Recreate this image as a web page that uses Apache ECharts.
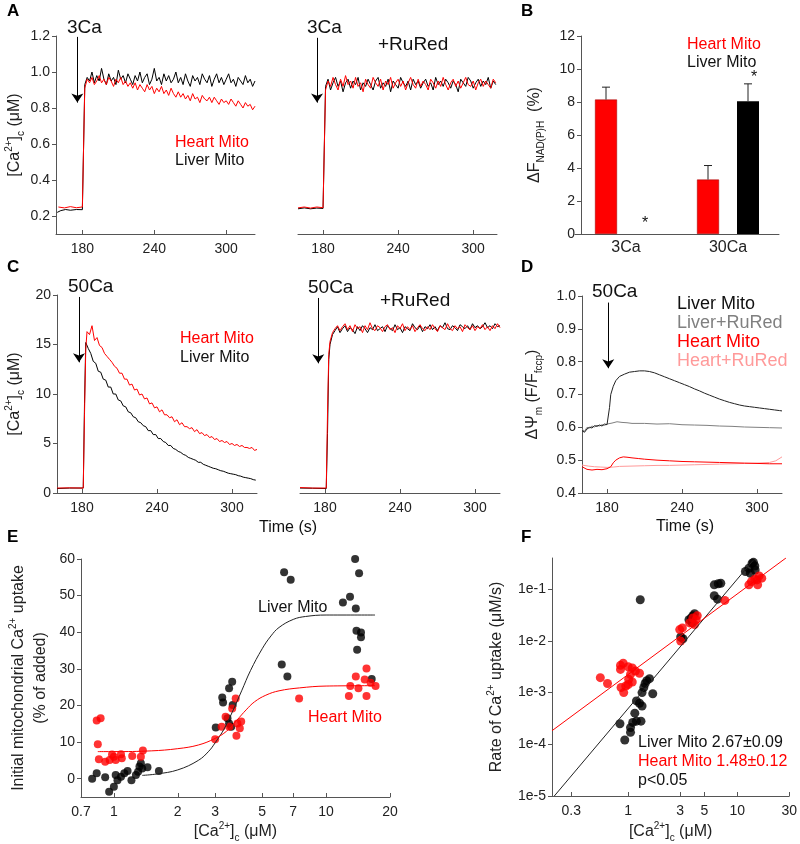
<!DOCTYPE html>
<html>
<head>
<meta charset="utf-8">
<title>Mito Ca2+ uptake</title>
<script src="https://cdn.jsdelivr.net/npm/echarts@6/dist/echarts.min.js"></script>
<style>
html,body{margin:0;padding:0;background:#fff;}
#main{width:800px;height:844px;}
</style>
</head>
<body>
<div id="main"></div>
<script>
// ---- values ----
var timeTicks = [180, 240, 300];

// A: 3 uM Ca2+ pulse; after the addition the traces are sampled every 2 s
var aStep = 2;
var aHeartBase = [[160,0.25],[165,0.245],[170,0.252],[175,0.246],[180,0.25],[181,0.26]];
var aLiverBase = [[159,0.22],[162,0.23],[166,0.236],[170,0.232],[175,0.236],[180,0.235],[181,0.24]];
var aHeart = [0.91,0.96,0.94,0.97,0.93,0.95,0.98,0.94,0.96,0.93,0.97,0.95,0.92,0.96,0.94,0.97,0.93,0.95,0.92,0.94,
  0.91,0.94,0.90,0.93,0.91,0.89,0.93,0.90,0.92,0.88,0.91,0.89,0.92,0.88,0.90,0.87,0.91,0.88,0.86,0.89,
  0.86,0.88,0.85,0.87,0.84,0.88,0.85,0.86,0.83,0.87,0.85,0.84,0.86,0.83,0.86,0.84,0.82,0.85,0.83,0.84,
  0.82,0.85,0.83,0.81,0.84,0.82,0.80,0.83,0.81,0.82,0.79,0.81];
var aLiver = [0.93,0.97,0.95,1.00,0.94,0.98,0.95,1.02,0.96,0.93,0.99,0.95,0.97,0.93,1.01,0.96,0.98,0.94,0.99,0.96,
  0.93,0.98,0.95,1.00,0.94,0.97,0.99,0.93,0.96,1.02,0.95,0.97,0.93,0.99,0.95,0.98,0.94,0.96,1.00,0.94,
  0.97,0.93,0.99,0.95,0.92,0.98,0.95,0.97,0.93,0.99,0.96,0.94,0.98,0.92,0.96,0.99,0.94,0.97,0.93,0.96,
  0.99,0.94,0.96,0.92,0.97,0.95,0.93,0.98,0.94,0.96,0.92,0.95];
var aRuHeartBase = [[160,0.245],[165,0.25],[170,0.244],[175,0.25],[180,0.246],[181,0.25]];
var aRuLiverBase = [[160,0.24],[165,0.245],[170,0.24],[175,0.244],[180,0.242],[181,0.245]];
var aRuHeart = [0.90,0.95,0.92,0.97,0.93,0.90,0.96,0.92,0.98,0.93,0.95,0.91,0.97,0.92,0.94,0.89,0.96,0.93,0.91,0.97,
  0.94,0.92,0.96,0.90,0.95,0.93,0.97,0.91,0.94,0.96,0.92,0.95,0.90,0.94,0.97,0.93,0.91,0.96,0.92,0.95,
  0.93,0.90,0.96,0.94,0.91,0.95,0.92,0.97,0.93,0.90,0.94,0.96,0.92,0.95,0.91,0.94,0.97,0.93,0.92,0.95,
  0.90,0.94,0.96,0.92,0.95,0.93,0.91,0.96,0.94];
var aRuLiver = [0.92,0.96,0.90,0.94,0.97,0.92,0.95,0.89,0.94,0.96,0.91,0.95,0.93,0.97,0.90,0.94,0.92,0.96,0.93,0.90,
  0.95,0.97,0.91,0.94,0.92,0.96,0.89,0.95,0.93,0.91,0.97,0.94,0.92,0.95,0.90,0.96,0.93,0.95,0.91,0.94,
  0.96,0.92,0.94,0.90,0.97,0.93,0.95,0.92,0.96,0.94,0.91,0.95,0.93,0.89,0.96,0.94,0.92,0.97,0.95,0.91,
  0.94,0.96,0.92,0.95,0.93,0.97,0.91,0.95,0.93];
var aYTicks = [0.2, 0.4, 0.6, 0.8, 1.0, 1.2];

// B: NAD(P)H fluorescence change
var bGroups = ['3Ca', '30Ca'];
var bHeart = [8.15, 3.3];
var bHeartErr = [0.75, 0.85];
var bLiver = [0, 8.05];
var bLiverErr = [0, 1.05];

// C: 50 uM Ca2+ pulse
var cHeartRise = [[160,0.5],[170,0.52],[181,0.5],[182,8],[183,14.5],[184,16.3]];
var cHeart = [16.0,16.9,15.4,15.7,14.9,14.7,14.1,13.8,13.5,13.2,12.8,12.6,12.1,12.1,11.5,11.5,10.9,11.0,10.4,10.5,
  9.9,10.0,9.5,9.6,9.0,9.1,8.6,8.7,8.2,8.4,7.9,7.9,7.6,7.7,7.2,7.4,6.9,7.1,6.7,6.7,
  6.5,6.6,6.2,6.4,6.0,6.1,5.8,5.9,5.6,5.7,5.4,5.5,5.2,5.3,5.1,5.2,4.9,5.0,4.8,4.9,
  4.7,4.8,4.6,4.6,4.5,4.6,4.3,4.4];
var cLiverRise = [[160,0.45],[170,0.5],[181,0.5],[182,9],[183,15.2]];
var cLiver = [14.6,14.1,13.3,13.1,12.3,12.2,11.5,11.4,10.7,10.7,10.0,10.0,9.4,9.3,8.8,8.7,8.2,8.1,7.7,7.6,
  7.2,7.1,6.8,6.7,6.3,6.3,5.9,5.9,5.5,5.5,5.2,5.1,4.8,4.8,4.5,4.4,4.2,4.1,3.9,3.8,
  3.6,3.5,3.4,3.3,3.1,3.1,2.9,2.8,2.7,2.6,2.5,2.45,2.35,2.25,2.2,2.1,2.0,1.95,1.9,1.85,
  1.75,1.7,1.6,1.55,1.5,1.45,1.35,1.3];
var cRuHeartRise = [[160,0.55],[170,0.5],[181,0.5],[182,8],[183,14.0],[184,15.3]];
var cRuHeart = [16.2,16.6,16.9,16.4,16.8,17.1,16.5,16.9,16.3,17.0,16.6,16.8,16.2,16.9,16.5,17.2,16.6,16.4,16.9,16.7,
  16.3,16.8,17.0,16.5,16.7,16.2,16.9,16.6,17.1,16.4,16.8,16.5,16.9,16.3,16.7,17.0,16.6,16.4,16.8,16.5,
  17.0,16.6,16.3,16.9,16.7,16.5,17.1,16.6,16.4,16.9,16.6,16.8,16.3,17.0,16.7,16.5,16.9,16.4,16.8,16.6,
  17.0,16.5,16.8,16.4,16.9,16.6,17.1,16.7];
var cRuLiverRise = [[160,0.5],[170,0.48],[181,0.45],[182,6],[183,13.5],[184,15.0]];
var cRuLiver = [16.0,16.4,16.8,16.2,16.6,16.9,16.3,16.7,16.5,16.1,16.8,16.4,16.9,16.6,16.2,16.7,16.5,17.0,16.4,16.6,
  16.8,16.3,16.9,16.6,16.4,17.0,16.5,16.7,16.2,16.8,16.6,16.4,17.1,16.7,16.5,16.9,16.3,16.8,16.6,17.0,
  16.5,16.8,16.4,16.9,16.7,17.2,16.6,16.5,16.9,16.7,16.4,17.0,16.8,16.6,16.9,16.5,17.1,16.7,16.9,16.6,
  16.8,17.2,16.7,16.9,16.6,17.1,16.8,16.9];

// D: membrane potential
var dLiver = [[160,0.590],[162,0.585],[164,0.595],[166,0.600],[168,0.598],[170,0.605],[172,0.603],[174,0.607],[176,0.604],[178,0.610],[180,0.608],[181,0.612],[182,0.660],[183,0.700],[185,0.725],[187,0.742],[190,0.755],[194,0.762],[198,0.768],[202,0.770],[206,0.772],[210,0.772],[214,0.770],[218,0.766],[222,0.760],[226,0.754],[230,0.748],[234,0.742],[238,0.736],[242,0.730],[246,0.724],[250,0.717],[254,0.711],[258,0.704],[262,0.698],[266,0.692],[270,0.686],[274,0.681],[278,0.676],[282,0.672],[286,0.668],[290,0.665],[294,0.663],[298,0.661],[302,0.659],[306,0.657],[310,0.655],[314,0.653],[318,0.651],[320,0.650]];
var dLiverRu = [[160,0.595],[162,0.588],[164,0.600],[166,0.598],[168,0.604],[170,0.601],[172,0.606],[174,0.604],[176,0.608],[178,0.606],[180,0.610],[184,0.613],[188,0.617],[192,0.615],[196,0.614],[200,0.612],[210,0.612],[220,0.610],[230,0.611],[240,0.608],[250,0.607],[260,0.606],[270,0.604],[280,0.603],[290,0.601],[300,0.600],[310,0.599],[320,0.598]];
var dHeart = [[160,0.480],[164,0.472],[168,0.470],[172,0.472],[176,0.471],[180,0.474],[181,0.470],[183,0.480],[185,0.492],[187,0.500],[190,0.507],[193,0.510],[196,0.509],[200,0.507],[205,0.505],[210,0.503],[220,0.500],[230,0.498],[240,0.496],[250,0.495],[260,0.494],[270,0.493],[280,0.492],[290,0.491],[300,0.490],[310,0.489],[320,0.489]];
var dHeartRu = [[160,0.485],[165,0.482],[170,0.480],[175,0.479],[180,0.478],[185,0.479],[190,0.481],[200,0.482],[210,0.483],[220,0.484],[230,0.484],[240,0.485],[250,0.486],[260,0.487],[270,0.488],[280,0.489],[290,0.490],[300,0.491],[310,0.493],[315,0.498],[320,0.510]];
var dYTicks = [0.4, 0.5, 0.6, 0.7, 0.8, 0.9, 1.0];

// E: initial uptake vs [Ca2+]c
var eLiverPts = [[0.79,0],[0.83,1.5],[0.91,0.4],[0.95,-3.6],[1.0,-2.2],[1.02,1.0],[1.04,-0.4],[1.08,0.5],[1.12,1.5],[1.16,2.1],[1.21,-0.4],[1.27,1.0],[1.30,1.9],[1.32,3.3],[1.34,4.2],[1.36,2.8],[1.44,3.1],[1.63,2.1],
  [3.02,14.0],[3.24,22.2],[3.27,20.8],[3.49,24.7],[3.61,26.5],[3.63,20.1],[3.43,16.5],[3.49,15.1],[3.57,14.2],
  [6.18,31.2],[6.57,27.9],[6.34,56.4],[6.81,54.3],[13.7,60],[14.3,56.1],[12.96,49.7],[12.0,48.1],[13.8,46.5],[13.9,40.4],[14.6,39.9],[14.6,38.6],[14.0,35.2],[16.4,27.2]];
var eHeartPts = [[0.83,15.9],[0.866,16.5],[0.84,9.4],[0.85,5.3],[0.91,4.6],[0.955,5.1],[0.98,6.6],[1.0,6.0],[1.02,5.1],[1.08,6.7],[1.09,5.6],[1.22,6.2],[1.34,6.0],[1.37,7.7],
  [3.0,10.8],[3.22,14.2],[3.36,16.9],[3.5,14.2],[3.61,19.2],[3.75,21.9],[3.78,11.7],[3.82,15.1],[3.92,13.8],[3.98,15.6],
  [7.46,21.9],[12.8,22.6],[13.0,25.3],[13.8,27.9],[14.2,24.7],[15.5,30.1],[15.2,27.1],[15.5,22.6],[16.2,26.2],[17.1,25.3]];
var eLiverFit = [[1.36,0.9],[1.6,1.3],[2.0,2.4],[2.5,5.0],[2.8,7.5],[3.0,9.8],[3.3,13.5],[3.6,18],[4.0,24],[4.4,29.5],[5.0,35.5],[5.5,39],[6.0,41.3],[7.0,43.5],[8.0,44.3],[10,44.7],[17,44.7]];
var eHeartFit = [[0.84,7.4],[1.0,7.4],[1.5,7.6],[2.0,8.2],[2.5,9.2],[3.0,11],[3.4,13],[3.8,16],[4.2,18.8],[4.6,21],[5.2,22.8],[6.0,24],[7.5,24.8],[10,25.3],[17,25.4]];
var eXTicks = [0.7, 1, 2, 3, 5, 7, 10, 20];
var eYTicks = [0, 10, 20, 30, 40, 50, 60];

// F: uptake rate, log-log
var fLiverPts = [[1.29,0.0624],[0.84,2.5e-4],[0.93,1.21e-4],[1.05,1.7e-4],[1.05,2.1e-4],[1.10,2.65e-4],[1.15,4.0e-4],[1.19,2.8e-4],[1.31,2.8e-4],[1.19,6.9e-4],[1.27,6.2e-4],[1.34,5.5e-4],[1.34,1.0e-3],[1.39,1.25e-3],[1.43,1.5e-3],[1.48,1.7e-3],[1.57,1.86e-3],[1.68,9.5e-4],
  [3.03,0.0119],[3.18,0.011],[3.61,0.0257],[3.79,0.0277],[3.92,0.0307],[4.06,0.0335],[3.87,0.0222],
  [6.16,0.121],[6.7,0.127],[7.07,0.130],[6.16,0.0744],[6.6,0.064],[11.9,0.219],[12.8,0.253],[13.7,0.316],[14.5,0.28],[13.2,0.203],[14.6,0.235],[14.1,0.33]];
var fHeartPts = [[0.555,1.94e-3],[0.646,1.5e-3],[0.85,3.36e-3],[0.90,3.68e-3],[0.85,2.8e-3],[1.0,3.16e-3],[1.09,3.0e-3],[1.165,2.6e-3],[1.27,2.36e-3],[0.86,1.25e-3],[0.91,1.0e-3],[0.95,1.34e-3],[1.01,1.8e-3],[1.05,2.25e-3],[1.09,1.6e-3],[1.0,1.43e-3],
  [2.97,0.0165],[3.14,0.0178],[3.03,9.9e-3],[3.66,0.0222],[3.92,0.0277],[4.06,0.0206],[4.2,0.0257],[4.3,0.0307],
  [7.7,0.0605],[12.8,0.121],[13.5,0.14],[15.2,0.151],[15.9,0.18],[16.8,0.163],[15.4,0.121],[14.5,0.155]];
var fLiverFit = [[0.21,1e-5],[14,0.36]];
var fHeartFit = [[0.2,1.83e-4],[28,0.4]];
var fXTicks = [0.3, 1, 3, 5, 10, 30];
var fYTicks = [1e-5, 1e-4, 1e-3, 1e-2, 1e-1];

// ---- helpers ----
var FONT = 'Liberation Sans, Arial, sans-serif';
var AX = '#555';
var RED = '#ff0000';
var BAR_W = 22, BAR_GAP = 18;   // px; bars in a group sit BAR_W + BAR_GAP apart

// baseline points, then regularly sampled values after the Ca2+ addition
function trace(base, t0, dt, vals) {
    return base.concat(vals.map(function (v, i) { return [t0 + i * dt, v]; }));
}

var richStyle = {
    sup: { fontSize: 10, fontFamily: FONT, verticalAlign: 'top', color: '#222' },
    sub: { fontSize: 10, fontFamily: FONT, verticalAlign: 'bottom', color: '#222' }
};
function nameStyle() {
    return { fontSize: 16, fontFamily: FONT, color: '#222', lineHeight: 22, rich: richStyle };
}

function timeAxis(gi, min, max) {
    return {
        type: 'value', gridIndex: gi, min: min, max: max,
        axisLine: { onZero: false, lineStyle: { color: AX } },
        axisTick: { inside: true, length: 4, lineStyle: { color: AX }, customValues: timeTicks },
        axisLabel: { customValues: timeTicks, color: '#222', fontSize: 14, fontFamily: FONT, margin: 8 },
        splitLine: { show: false }
    };
}
function leftAxis(gi, min, max, ticks, fmt, name, gap) {
    return {
        type: 'value', gridIndex: gi, min: min, max: max,
        axisLine: { show: true, lineStyle: { color: AX } },
        axisTick: { show: true, length: 4, lineStyle: { color: AX }, customValues: ticks },
        axisLabel: { customValues: ticks, formatter: fmt, color: '#222', fontSize: 14, fontFamily: FONT, margin: 6 },
        splitLine: { show: false },
        name: name, nameLocation: 'middle', nameRotate: 90, nameGap: gap, nameTextStyle: nameStyle()
    };
}
function hiddenAxis(gi, min, max) {
    return { type: 'value', gridIndex: gi, min: min, max: max, show: false, splitLine: { show: false } };
}
function lineSeries(xi, data, color, extra) {
    var s = {
        type: 'line', xAxisIndex: xi, yAxisIndex: xi, data: data,
        showSymbol: false, symbol: 'none', lineStyle: { color: color, width: 1 }, z: 3
    };
    for (var k in extra) s[k] = extra[k];
    return s;
}
function arrow(x, y0, y1) {
    return {
        silent: true, symbol: ['none', 'arrow'], symbolSize: 9,
        lineStyle: { color: '#000', width: 1, type: 'solid' }, label: { show: false },
        data: [[{ coord: [x, y0] }, { coord: [x, y1] }]]
    };
}
function errRender(side) {
    return function (params, api) {
        var e = api.value(2);
        if (!(e > 0)) return;
        var base = api.coord([api.value(0), api.value(1)]);
        var top = api.coord([api.value(0), api.value(1) + e]);
        var x = base[0] + side * (BAR_W + BAR_GAP) / 2;
        return {
            type: 'group', children: [
                { type: 'line', shape: { x1: x, y1: base[1], x2: x, y2: top[1] }, style: { stroke: '#222', lineWidth: 1 } },
                { type: 'line', shape: { x1: x - 4, y1: top[1], x2: x + 4, y2: top[1] }, style: { stroke: '#222', lineWidth: 1 } }
            ]
        };
    };
}
function txt(s, x, y, color, size, align, weight) {
    return {
        type: 'text', x: x, y: y, silent: true,
        style: {
            text: s, fill: color, align: align || 'left', verticalAlign: 'middle',
            font: (weight || 'normal') + ' ' + size + 'px ' + FONT
        }
    };
}
var fmt1 = function (v) { return v.toFixed(1); };
var fmtG = function (v) { return String(+v.toPrecision(3)); };
var fmtExp = function (v) { return '1e' + Math.round(Math.log(v) / Math.LN10); };
var caName = '[Ca{sup|2+}]{sub|c} (μM)';

var bY = leftAxis(2, 0, 12, [0, 2, 4, 6, 8, 10, 12], null, 'ΔF{sub|NAD(P)H}  (%)', 35);
bY.offset = -6;

var chart = echarts.init(document.getElementById('main'));
chart.setOption({
    animation: false,
    backgroundColor: '#fff',
    grid: [
        { left: 56, top: 36, width: 199, height: 198 },
        { left: 298, top: 36, width: 199, height: 198 },
        { left: 575, top: 36, width: 204, height: 198 },
        { left: 57, top: 295, width: 200, height: 198 },
        { left: 300, top: 295, width: 200, height: 198 },
        { left: 582, top: 296, width: 200, height: 197 },
        { left: 81, top: 559, width: 309, height: 238 },
        { left: 552, top: 558, width: 240, height: 239 }
    ],
    xAxis: [
        timeAxis(0, 158, 324),
        timeAxis(1, 160, 319),
        {
            type: 'category', gridIndex: 2, data: bGroups,
            axisLine: { onZero: false, lineStyle: { color: AX } }, axisTick: { show: false },
            axisLabel: { color: '#222', fontSize: 16, fontFamily: FONT, margin: 6 }
        },
        timeAxis(3, 160, 320),
        timeAxis(4, 160, 320),
        timeAxis(5, 160, 320),
        {
            type: 'log', logBase: 10, gridIndex: 6, min: 0.7, max: 20,
            axisLine: { onZero: false, lineStyle: { color: AX } },
            axisTick: { inside: true, length: 4, lineStyle: { color: AX }, customValues: eXTicks },
            axisLabel: { customValues: eXTicks, formatter: fmtG, color: '#222', fontSize: 14, fontFamily: FONT, margin: 8 },
            splitLine: { show: false }, minorTick: { show: false },
            name: caName, nameLocation: 'middle', nameGap: 24, nameTextStyle: nameStyle()
        },
        {
            type: 'log', logBase: 10, gridIndex: 7, min: 0.2, max: 30,
            axisLine: { onZero: false, lineStyle: { color: AX } },
            axisTick: { inside: true, length: 4, lineStyle: { color: AX }, customValues: fXTicks },
            axisLabel: { customValues: fXTicks, formatter: fmtG, color: '#222', fontSize: 14, fontFamily: FONT, margin: 8 },
            splitLine: { show: false },
            name: caName, nameLocation: 'middle', nameGap: 25, nameTextStyle: nameStyle()
        }
    ],
    yAxis: [
        leftAxis(0, 0.1, 1.2, aYTicks, fmt1, caName, 30),
        hiddenAxis(1, 0.1, 1.2),
        bY,
        leftAxis(3, 0, 20, [0, 5, 10, 15, 20], null, caName, 31),
        hiddenAxis(4, 0, 20),
        leftAxis(5, 0.4, 1.0, dYTicks, fmt1, 'ΔΨ{sub|m} (F/F{sub|fccp})', 38),
        leftAxis(6, -5, 60, eYTicks, null, 'Initial mitochondrial Ca{sup|2+} uptake\n(% of added)', 29),
        {
            type: 'log', logBase: 10, gridIndex: 7, min: 1e-5, max: 0.4,
            axisLine: { show: true, lineStyle: { color: AX } },
            axisTick: { show: true, length: 4, lineStyle: { color: AX }, customValues: fYTicks },
            axisLabel: { customValues: fYTicks, formatter: fmtExp, color: '#222', fontSize: 14, fontFamily: FONT, margin: 6 },
            splitLine: { show: false },
            name: 'Rate of Ca{sup|2+} uptake (μM/s)', nameLocation: 'middle', nameRotate: 90, nameGap: 44, nameTextStyle: nameStyle()
        }
    ],
    series: [
        // A
        lineSeries(0, trace(aLiverBase, 182, aStep, aLiver), '#000', { markLine: arrow(175.8, 1.195, 0.83) }),
        lineSeries(0, trace(aHeartBase, 182, aStep, aHeart), RED),
        lineSeries(1, trace(aRuLiverBase, 182, aStep, aRuLiver), '#000', { markLine: arrow(175.2, 1.19, 0.83) }),
        lineSeries(1, trace(aRuHeartBase, 182, aStep, aRuHeart), RED),
        // B
        { type: 'bar', xAxisIndex: 2, yAxisIndex: 2, data: bHeart, barWidth: BAR_W, barGap: (BAR_GAP / BAR_W * 100) + '%',
          itemStyle: { color: RED, borderColor: '#900', borderWidth: 0.5 } },
        { type: 'bar', xAxisIndex: 2, yAxisIndex: 2, data: bLiver, barWidth: BAR_W,
          itemStyle: { color: '#000' } },
        { type: 'custom', xAxisIndex: 2, yAxisIndex: 2, renderItem: errRender(-1), z: 5,
          data: bHeart.map(function (v, i) { return [i, v, bHeartErr[i]]; }) },
        { type: 'custom', xAxisIndex: 2, yAxisIndex: 2, renderItem: errRender(1), z: 5,
          data: bLiver.map(function (v, i) { return [i, v, bLiverErr[i]]; }) },
        // C
        lineSeries(3, trace(cLiverRise, 185, 2, cLiver), '#000', { markLine: arrow(177.6, 19.8, 13.2) }),
        lineSeries(3, trace(cHeartRise, 186, 2, cHeart), RED),
        lineSeries(4, trace(cRuLiverRise, 186, 2, cRuLiver), '#000', { markLine: arrow(174.6, 19.7, 13.1) }),
        lineSeries(4, trace(cRuHeartRise, 186, 2, cRuHeart), RED),
        // D
        lineSeries(5, dLiverRu, '#808080', { markLine: arrow(181, 0.98, 0.78) }),
        lineSeries(5, dLiver, '#222'),
        lineSeries(5, dHeartRu, '#ff9a9a'),
        lineSeries(5, dHeart, RED),
        // E
        lineSeries(6, eLiverFit, '#222', { smooth: 0.4 }),
        lineSeries(6, eHeartFit, RED, { smooth: 0.4 }),
        { type: 'scatter', xAxisIndex: 6, yAxisIndex: 6, data: eLiverPts, symbolSize: 8, itemStyle: { color: '#000' } },
        { type: 'scatter', xAxisIndex: 6, yAxisIndex: 6, data: eHeartPts, symbolSize: 8, itemStyle: { color: RED } },
        // F
        { type: 'scatter', xAxisIndex: 7, yAxisIndex: 7, data: fLiverPts, symbolSize: 9, itemStyle: { color: '#000' } },
        { type: 'scatter', xAxisIndex: 7, yAxisIndex: 7, data: fHeartPts, symbolSize: 9, itemStyle: { color: RED } },
        lineSeries(7, fLiverFit, '#222', { z: 4 }),
        lineSeries(7, fHeartFit, RED, { z: 4 })
    ],
    graphic: [
        txt('A', 7, 11, '#000', 17, 'left', 'bold'),
        txt('B', 521, 11, '#000', 17, 'left', 'bold'),
        txt('C', 7, 267, '#000', 17, 'left', 'bold'),
        txt('D', 521, 267, '#000', 17, 'left', 'bold'),
        txt('E', 7, 537, '#000', 17, 'left', 'bold'),
        txt('F', 521, 537, '#000', 17, 'left', 'bold'),
        txt('3Ca', 67, 28, '#111', 19),
        txt('3Ca', 307, 28, '#111', 19),
        txt('+RuRed', 378, 45, '#111', 19),
        txt('Heart Mito', 175, 143, RED, 16),
        txt('Liver Mito', 175, 161, '#111', 16),
        txt('Heart Mito', 687, 45, RED, 16),
        txt('Liver Mito', 687, 63, '#111', 16),
        txt('*', 645, 224, '#111', 16, 'center'),
        txt('*', 754, 78, '#111', 16, 'center'),
        txt('50Ca', 68, 287, '#111', 19),
        txt('Heart Mito', 180, 339, RED, 16),
        txt('Liver Mito', 180, 358, '#111', 16),
        txt('Time (s)', 288, 528, '#111', 16, 'center'),
        txt('50Ca', 308, 288, '#111', 19),
        txt('+RuRed', 380, 301, '#111', 19),
        txt('50Ca', 592, 292, '#111', 19),
        txt('Liver Mito', 677, 304, '#111', 18),
        txt('Liver+RuRed', 677, 323, '#808080', 18),
        txt('Heart Mito', 677, 342, RED, 18),
        txt('Heart+RuRed', 677, 361, '#ff9a9a', 18),
        txt('Time (s)', 685, 527, '#111', 16, 'center'),
        txt('Liver Mito', 258, 608, '#111', 16),
        txt('Heart Mito', 308, 718, RED, 16),
        txt('Liver Mito 2.67±0.09', 638, 743, '#111', 16),
        txt('Heart Mito 1.48±0.12', 638, 762, RED, 16),
        txt('p<0.05', 638, 781, '#111', 16)
    ]
});
</script>
</body>
</html>
